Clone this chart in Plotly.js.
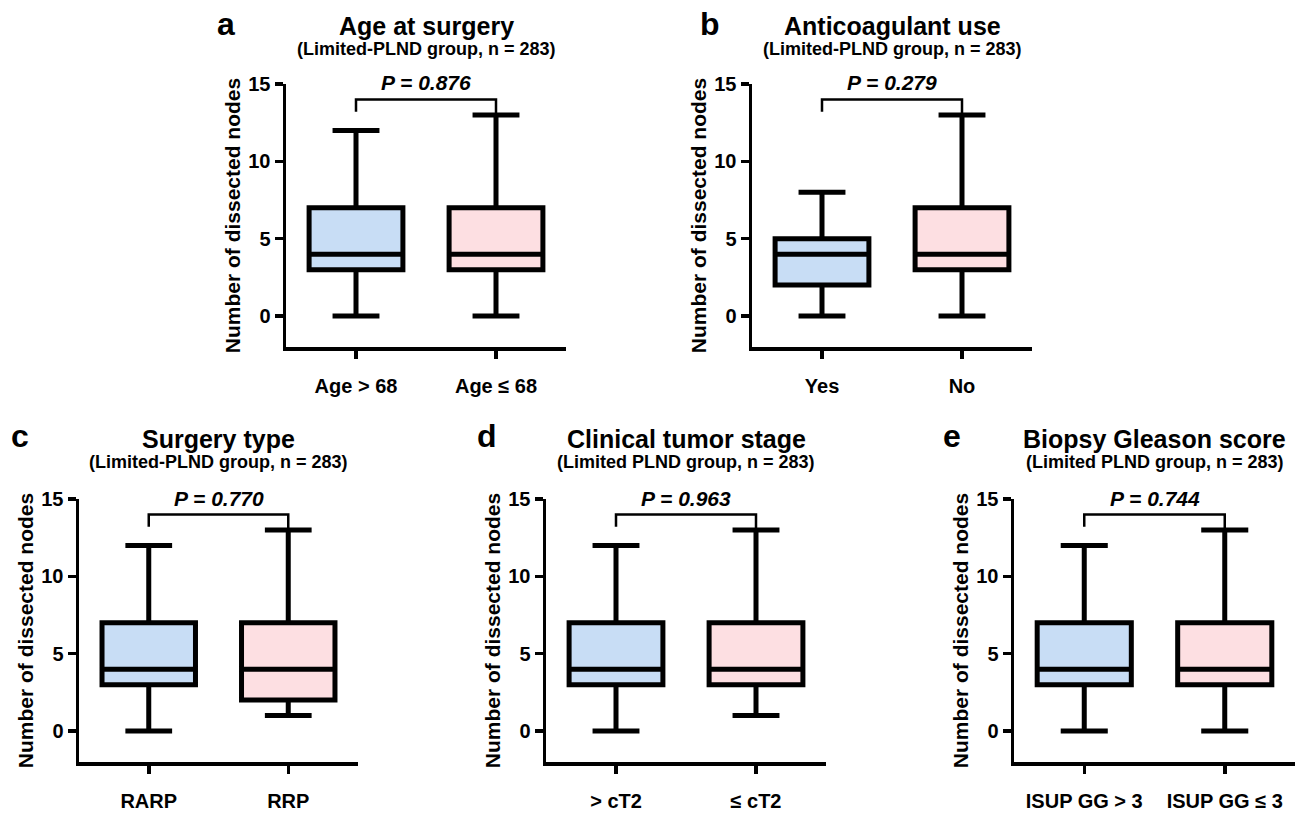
<!DOCTYPE html>
<html>
<head>
<meta charset="utf-8">
<script src="https://cdn.plot.ly/plotly-3.0.1.min.js"></script>
<style>html,body{margin:0;padding:0;background:#fff;} #chart{width:1306px;height:815px;}</style>
</head>
<body>
<div id="chart"></div>
<script>
// ---------- DATA ----------
const panelLetters = ['a', 'b', 'c', 'd', 'e'];
const titles = ['Age at surgery', 'Anticoagulant use', 'Surgery type', 'Clinical tumor stage', 'Biopsy Gleason score'];
const subtitles = ['(Limited-PLND group, n = 283)', '(Limited-PLND group, n = 283)', '(Limited-PLND group, n = 283)', '(Limited PLND group, n = 283)', '(Limited PLND group, n = 283)'];
const categories = [
  ['Age > 68', 'Age ≤ 68'],
  ['Yes', 'No'],
  ['RARP', 'RRP'],
  ['> cT2', '≤ cT2'],
  ['ISUP GG > 3', 'ISUP GG ≤ 3']
];
const minVals    = [[0, 0], [0, 0], [0, 1], [0, 1], [0, 0]];
const q1Vals     = [[3, 3], [2, 3], [3, 2], [3, 3], [3, 3]];
const medianVals = [[4, 4], [4, 4], [4, 4], [4, 4], [4, 4]];
const q3Vals     = [[7, 7], [5, 7], [7, 7], [7, 7], [7, 7]];
const maxVals    = [[12, 13], [8, 13], [12, 13], [12, 13], [12, 13]];
const pValues    = ['0.876', '0.279', '0.770', '0.963', '0.744'];
const yTickVals  = [0, 5, 10, 15];

// ---------- STYLE / LAYOUT ----------
const W = 1306, H = 815;
const FONT = 'Liberation Sans, Arial, sans-serif';
const boxColors = ['#C8DDF5', '#FDDFE2'];
const panels = [
  {x0: 286, x1: 566, yTop: 84, yBot: 347, letterX: 226, letterY: 24, titleY: 26, subY: 49, pY: 83},
  {x0: 752, x1: 1032, yTop: 84, yBot: 347, letterX: 710, letterY: 24, titleY: 26, subY: 49, pY: 83},
  {x0: 79, x1: 358, yTop: 499, yBot: 762, letterX: 20, letterY: 436, titleY: 439, subY: 462, pY: 498},
  {x0: 546, x1: 826, yTop: 499, yBot: 762, letterX: 487, letterY: 436, titleY: 439, subY: 462, pY: 498},
  {x0: 1014, x1: 1295, yTop: 499, yBot: 762, letterX: 952, letterY: 436, titleY: 439, subY: 462, pY: 498}
];
const px2x = p => p / W;
const px2y = p => 1 - p / H;

const data = [];
const layout = {
  width: W, height: H,
  margin: {l: 0, r: 0, t: 0, b: 0},
  paper_bgcolor: '#fff', plot_bgcolor: 'rgba(0,0,0,0)',
  font: {family: FONT, color: '#000'},
  showlegend: false,
  boxmode: 'overlay',
  annotations: [],
  shapes: []
};

panels.forEach((p, i) => {
  const n = i + 1;
  const xa = 'x' + (n === 1 ? '' : n), ya = 'y' + (n === 1 ? '' : n);
  const xKey = 'xaxis' + (n === 1 ? '' : n), yKey = 'yaxis' + (n === 1 ? '' : n);

  categories[i].forEach((cat, j) => {
    data.push({
      type: 'box',
      x: [cat],
      q1: [q1Vals[i][j]], median: [medianVals[i][j]], q3: [q3Vals[i][j]],
      lowerfence: [minVals[i][j]], upperfence: [maxVals[i][j]],
      xaxis: xa, yaxis: ya,
      fillcolor: boxColors[j],
      line: {color: '#000', width: 5},
      width: 0.67,
      whiskerwidth: 0.5,
      boxpoints: false,
      hoverinfo: 'skip',
      showlegend: false
    });
  });

  layout[xKey] = {
    domain: [px2x(p.x0), px2x(p.x1)],
    anchor: ya,
    type: 'category',
    categoryorder: 'array', categoryarray: categories[i],
    range: [-0.5, 1.5],
    showline: true, linecolor: '#000', linewidth: 3.5,
    ticks: 'outside', ticklen: 8, tickwidth: 3.5, tickcolor: '#000',
    ticklabelstandoff: 10,
    tickfont: {family: FONT, size: 20, weight: 'bold', color: '#000'},
    showgrid: false, zeroline: false, fixedrange: true
  };
  layout[yKey] = {
    domain: [px2y(p.yBot), px2y(p.yTop)],
    anchor: xa,
    range: [-2, 15],
    tickvals: yTickVals,
    showline: true, linecolor: '#000', linewidth: 3.5,
    ticks: 'outside', ticklen: 8, tickwidth: 3.5, tickcolor: '#000',
    tickfont: {family: FONT, size: 20, weight: 'bold', color: '#000'},
    title: {text: 'Number of dissected nodes', standoff: 3,
            font: {family: FONT, size: 21, weight: 'bold', color: '#000'}},
    showgrid: false, zeroline: false, fixedrange: true
  };

  // significance bracket
  layout.shapes.push({
    type: 'path', xref: xa, yref: ya,
    path: 'M0,13.2 L0,14 L1,14 L1,' + maxVals[i][1],
    line: {color: '#000', width: 2.5}
  });
  const cx = px2x((p.x0 + p.x1) / 2);
  layout.annotations.push({
    xref: 'paper', yref: 'paper', x: cx, y: px2y(p.pY), xanchor: 'center', yanchor: 'middle',
    text: 'P = ' + pValues[i], showarrow: false,
    font: {family: FONT, size: 21, weight: 'bold', style: 'italic', color: '#000'}
  });
  // titles
  layout.annotations.push({
    xref: 'paper', yref: 'paper', x: cx, y: px2y(p.titleY), xanchor: 'center', yanchor: 'middle',
    text: titles[i], showarrow: false,
    font: {family: FONT, size: 25, weight: 'bold', color: '#000'}
  });
  layout.annotations.push({
    xref: 'paper', yref: 'paper', x: cx, y: px2y(p.subY), xanchor: 'center', yanchor: 'middle',
    text: subtitles[i], showarrow: false,
    font: {family: FONT, size: 18, weight: 'bold', color: '#000'}
  });
  layout.annotations.push({
    xref: 'paper', yref: 'paper', x: px2x(p.letterX), y: px2y(p.letterY), xanchor: 'center', yanchor: 'middle',
    text: panelLetters[i], showarrow: false,
    font: {family: FONT, size: 32, weight: 'bold', color: '#000'}
  });
});

Plotly.newPlot('chart', data, layout, {staticPlot: true, displayModeBar: false});
</script>
</body>
</html>
